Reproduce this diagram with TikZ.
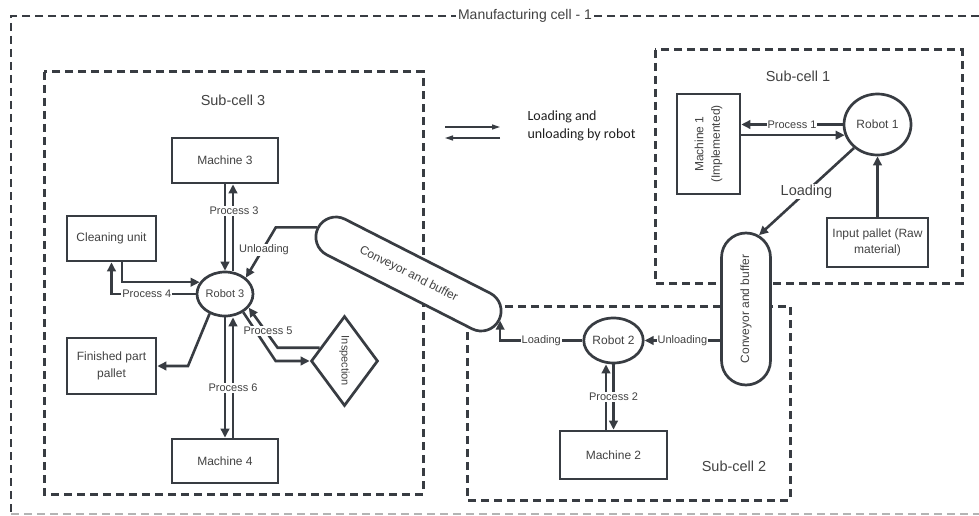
\documentclass[tikz,border=0pt]{standalone}
\usepackage{fontspec}
\setmainfont{Liberation Sans}
\newfontfamily\legendfont{Carlito}
\usetikzlibrary{arrows.meta,shapes.geometric,shapes.misc}

\definecolor{ink}{RGB}{56,60,66}
\definecolor{txt}{RGB}{66,66,66}
\definecolor{faint}{RGB}{180,180,180}
\newcommand\fsz[2]{\fontsize{#1}{#2}\selectfont}

\begin{document}
\begin{tikzpicture}[x=1pt,y=-1pt,
  cellbox/.style={draw=ink, line width=3pt, dash pattern=on 8pt off 5pt},
  unit/.style={draw=ink, line width=2.7pt, fill=white, text=txt, align=center,
    inner sep=0pt, font=\fsz{12}{16.5}},
  robot/.style={ellipse, draw=ink, line width=2.7pt, fill=white, text=txt,
    inner sep=0pt, font=\fsz{11.5}{13}},
  belt/.style={rounded rectangle, draw=ink, line width=2.7pt, fill=white,
    text=txt, inner sep=0pt, font=\fsz{12}{14}},
  flow/.style={draw=ink, line width=2.6pt, -{Triangle[length=9pt,width=8.5pt]}},
  thinflow/.style={draw=ink, line width=1.2pt, -{Triangle[length=8pt,width=5pt]}},
  tag/.style={fill=white, text=txt, inner sep=1pt, font=\fsz{11}{13}},
  celltitle/.style={text=txt, font=\fsz{14.5}{17}}]

\useasboundingbox[fill=white] (0,0) rectangle (979,516);

% outer cell frame
\draw[ink, line width=2.8pt, dash pattern=on 8pt off 5pt] (979,16) -- (11,16) -- (11,514);
\draw[faint, line width=1.8pt, dash pattern=on 8pt off 5pt] (11,514) -- (979,514);
\node[fill=white, text=txt, font=\fsz{14}{16}, inner sep=2pt] (title) at (525,16) {Manufacturing cell - 1};

% sub-cells
\draw[cellbox] (44,72) rectangle (423,494);
\draw[cellbox] (655,50) rectangle (962,283);
\draw[cellbox] (467,306) rectangle (790,500);
\node[celltitle] (t3) at (233,100) {Sub-cell 3};
\node[celltitle] (t1) at (798,76) {Sub-cell 1};
\node[celltitle] (t2) at (734,466) {Sub-cell 2};

% legend
\coordinate (la1) at (445,127);
\coordinate (la2) at (500,127);
\coordinate (lb1) at (500,138);
\coordinate (lb2) at (445,138);
\draw[thinflow] (la1) -- (la2);
\draw[thinflow] (lb1) -- (lb2);
\node[anchor=west, align=left, font=\legendfont\fsz{14}{18}, text=black!88] (legend) at (524,126)
  {Loading and\\unloading by robot};

% sub-cell 3 units
\node[unit, minimum width=106pt, minimum height=45pt] (m3) at (225,160.5) {Machine 3};
\node[unit, minimum width=89pt, minimum height=45pt] (cu) at (111.5,238.5) {Cleaning unit};
\node[robot, minimum width=56pt, minimum height=44pt, font=\fsz{11}{13}] (r3) at (225,294) {Robot 3};
\node[unit, minimum width=89pt, minimum height=56pt] (fp) at (111.5,366) {Finished part\\pallet};
\node[unit, minimum width=106pt, minimum height=44pt] (m4) at (225,461) {Machine 4};
\node[diamond, draw=ink, line width=2.7pt, fill=white, text=txt, inner sep=0pt,
  minimum width=67pt, minimum height=90pt, font=\fsz{11}{13}] (ins) at (344.5,361)
  {\rotatebox{-90}{Inspection}};
\node[belt, minimum width=203pt, minimum height=40pt, rotate=-27] (cv3) at (408.5,274)
  {Conveyor and buffer};

% sub-cell 1 units
\node[unit, minimum width=100pt, minimum height=63pt, rotate=90] (m1) at (708.5,144)
  {Machine 1\\(Implemented)};
\node[robot, minimum width=67pt, minimum height=61pt, font=\fsz{12}{14}] (r1) at (877.5,124.5) {Robot 1};
\node[unit, minimum width=101pt, minimum height=49pt] (ip) at (877.5,242.5)
  {Input pallet (Raw\\material)};
\node[belt, minimum width=152pt, minimum height=49pt, rotate=90] (cv1) at (746,309)
  {Conveyor and buffer};

% sub-cell 2 units
\node[robot, minimum width=55pt, minimum height=45pt, font=\fsz{12}{14}] (r2) at (613.5,340.5) {Robot 2};
\node[unit, minimum width=107pt, minimum height=48pt] (m2) at (613.5,455) {Machine 2};

% sub-cell 1 flows
\draw[flow] (r1.west) -- (r1.west -| m1.south) node[midway, tag] {Process 1};
\draw[flow] (m1.south |- r1.198) -- (r1.198);
\draw[flow] (ip.north) -- (r1.south);
\draw[flow] (r1.225) -- (cv1.-10) node[midway, tag, font=\fsz{14.5}{17}] {Loading};

% sub-cell 2 flows
\draw[flow] (cv1.north |- r2.east) -- (r2.east) node[midway, tag] {Unloading};
\draw[flow] (r2.west) -| (cv3.east) node[pos=.25, tag] {Loading};
\draw[flow] ([xshift=-7.5pt]m2.north) -- ([xshift=-7.5pt]r2.south);
\draw[flow] (r2.south) -- (m2.north);
\node[tag] (p2) at (613.5,397) {Process 2};

% sub-cell 3 flows
\draw[flow] (m3.south) -- (r3.north);
\draw[flow] ([xshift=8pt]r3.north) -- ([xshift=8pt]m3.south);
\node[tag] (p3) at (234,211) {Process 3};
\draw[flow] (r3.south) -- (m4.north);
\draw[flow] ([xshift=8pt]m4.north) -- ([xshift=8pt]r3.south);
\node[tag] (p6) at (233,388) {Process 6};
\draw[flow] ([xshift=10.5pt]cu.south) |- (r3.155);
\draw[flow] (r3.west) -| (cu.south) node[pos=.29, tag] {Process 4};
\draw[flow] (r3.232) -- (188,366) -- (fp.east);
\draw[flow] (ins.152) -- ++(-42,0) -- (r3.-30);
\draw[flow] (r3.-45) -- ([xshift=-34pt]ins.west) -- (ins.west);
\node[tag] (p5) at (268,331) {Process 5};
\draw[flow] (cv3.west) -- ++(-41,0) -- (r3.38);
\node[tag] (ul3) at (264,250) {Unloading};

\end{tikzpicture}
\end{document}
